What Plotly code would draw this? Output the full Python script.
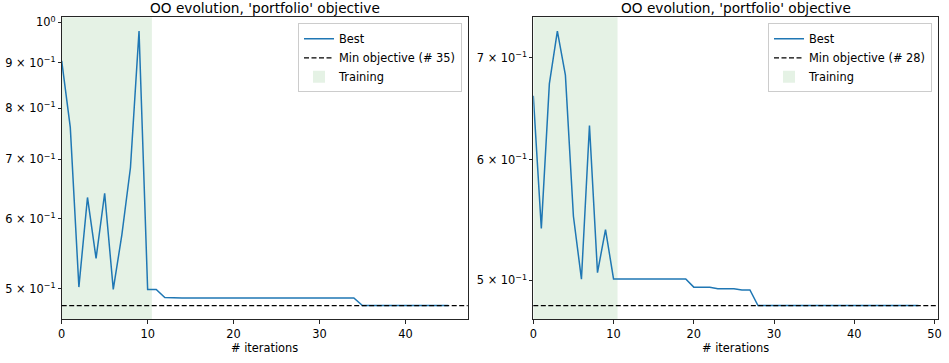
import math
import plotly.graph_objects as go

# ---------------- data ----------------
iters_left = list(range(46))
best_left = [0.905, 0.761, 0.502, 0.634, 0.541, 0.641, 0.499, 0.575, 0.685, 0.978,
             0.499, 0.499, 0.4886] + [0.488] * 22 + [0.4784] * 11
min_left = 0.4784
min_left_iter = 35

iters_right = list(range(49))
best_right = [0.661, 0.541, 0.673, 0.729, 0.682, 0.551, 0.501, 0.632, 0.506, 0.540] \
    + [0.5012] * 10 + [0.4950] * 3 + [0.4938] * 3 + [0.4929] * 2 + [0.4814] * 21
min_right = 0.4814
min_right_iter = 28

training_end = 10.5

title_text = "OO evolution, 'portfolio' objective"
xlabel = "# iterations"

SEP = " × "
left_ytickvals = [0.5, 0.6, 0.7, 0.8, 0.9, 1.0]
left_yticktext = [f"5{SEP}10<sup>−1</sup>", f"6{SEP}10<sup>−1</sup>", f"7{SEP}10<sup>−1</sup>",
                  f"8{SEP}10<sup>−1</sup>", f"9{SEP}10<sup>−1</sup>", "10<sup>0</sup>"]
right_ytickvals = [0.5, 0.6, 0.7]
right_yticktext = [f"5{SEP}10<sup>−1</sup>", f"6{SEP}10<sup>−1</sup>", f"7{SEP}10<sup>−1</sup>"]
left_xtickvals = [0, 10, 20, 30, 40]
right_xtickvals = [0, 10, 20, 30, 40, 50]

# ---------------- styling ----------------
W, H = 949, 363
FONT = "DejaVu Sans"
BLUE = "#1f77b4"
GREEN = "rgba(0,128,0,0.10)"
AXC = "#262626"
FS = 11.4
FT = 13.7


def log_range(vals, margin=0.05):
    lo, hi = math.log10(min(vals)), math.log10(max(vals))
    d = hi - lo
    return [lo - margin * d, hi + margin * d]


def x_range(xs, margin=0.05):
    return [0, max(xs) + margin * (max(xs) - min(xs))]


left_dom = [61.7 / W, 467.7 / W]
right_dom = [533.3 / W, 937.7 / W]
ydom = [1 - 319.3 / H, 1 - 17.3 / H]

fig = go.Figure()

panels = [
    ("x", "y", "legend", iters_left, best_left, min_left, min_left_iter,
     left_dom, left_ytickvals, left_yticktext, left_xtickvals),
    ("x2", "y2", "legend2", iters_right, best_right, min_right, min_right_iter,
     right_dom, right_ytickvals, right_yticktext, right_xtickvals),
]

for i, (xa, ya, lg, xs, ys, mn, mni, dom, ytv, ytt, xtv) in enumerate(panels):
    fig.add_trace(go.Scatter(
        x=xs, y=ys, mode="lines", name="Best",
        line=dict(color=BLUE, width=1.5),
        xaxis=xa, yaxis=ya, legend=lg, legendrank=1,
    ))
    # training span
    fig.add_shape(type="rect", xref=xa, yref=f"{ya} domain",
                  x0=0, x1=training_end, y0=0, y1=1,
                  fillcolor=GREEN, line=dict(width=0), layer="below",
                  showlegend=True, name="Training", legend=lg, legendrank=3)
    # min objective line
    fig.add_shape(type="line", xref=f"{xa} domain", yref=ya,
                  x0=0, x1=1, y0=mn, y1=mn,
                  line=dict(color="black", width=1.2, dash="5px,2.5px"), layer="above",
                  showlegend=True, name=f"Min objective (# {mni})", legend=lg, legendrank=2)

    axname = "xaxis" if xa == "x" else "xaxis2"
    yname = "yaxis" if ya == "y" else "yaxis2"
    fig.update_layout({
        axname: dict(domain=dom, anchor=ya, range=x_range(xs), automargin=False,
                     tickvals=xtv, ticks="outside", ticklen=4, tickwidth=0.9,
                     tickcolor=AXC, showline=True, linecolor=AXC, linewidth=0.9,
                     mirror=True, showgrid=False, zeroline=False,
                     tickfont=dict(family=FONT, size=FS, color="black")),
        yname: dict(domain=ydom, anchor=xa, type="log", range=log_range(ys + [mn]),
                    automargin=False,
                    tickvals=ytv, ticktext=ytt, ticks="outside", ticklen=3, tickwidth=0.9,
                    tickcolor=AXC, showline=True, linecolor=AXC, linewidth=0.9,
                    mirror=True, showgrid=False, zeroline=False,
                    tickfont=dict(family=FONT, size=FS, color="black")),
    })
    fig.add_annotation(text=title_text, xref="paper", yref="paper",
                       x=(dom[0] + dom[1]) / 2, y=1 - 8.5 / H,
                       xanchor="center", yanchor="middle", showarrow=False,
                       font=dict(family=FONT, size=FT, color="black"))
    fig.add_annotation(text=xlabel, xref="paper", yref="paper",
                       x=(dom[0] + dom[1]) / 2, y=1 - 348 / H,
                       xanchor="center", yanchor="middle", showarrow=False,
                       font=dict(family=FONT, size=FS, color="black"))

legend_common = dict(bgcolor="rgba(255,255,255,0.8)", bordercolor="#cccccc", borderwidth=1,
                     font=dict(family=FONT, size=FS, color="black"),
                     xanchor="right", yanchor="top", y=1 - 23.3 / H,
                     tracegroupgap=0, itemwidth=30)

fig.update_layout(
    width=W, height=H,
    margin=dict(l=0, r=0, t=0, b=0, autoexpand=False),
    paper_bgcolor="white", plot_bgcolor="white",
    font=dict(family=FONT, size=FS, color="black"),
    legend=dict(x=462 / W, **legend_common),
    legend2=dict(x=932 / W, **legend_common),
)

fig.write_html("out.html",
               config={"displayModeBar": False},
               post_script="document.body.style.margin='0';document.body.style.overflow='hidden';")
